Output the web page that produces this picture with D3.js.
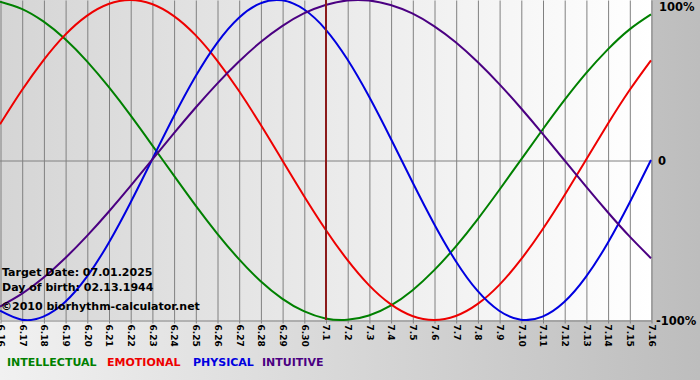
<!DOCTYPE html>
<html>
<head>
<meta charset="utf-8">
<script src="https://cdn.jsdelivr.net/npm/d3@7"></script>
<style>
html,body{margin:0;padding:0;background:#fff;}
svg{display:block;}
</style>
</head>
<body>
<svg id="chart" width="700" height="380"></svg>
<script>
// ---- data ----
const dates = ["6.16","6.17","6.18","6.19","6.20","6.21","6.22","6.23","6.24","6.25","6.26","6.27","6.28","6.29","6.30",
               "7.1","7.2","7.3","7.4","7.5","7.6","7.7","7.8","7.9","7.10","7.11","7.12","7.13","7.14","7.15","7.16"];
const intellectual = [0.990,0.945,0.866,0.756,0.618,0.458,0.282,0.095,-0.095,-0.282,-0.458,-0.618,-0.756,-0.866,-0.945,
                      -0.990,-0.999,-0.972,-0.910,-0.815,-0.690,-0.541,-0.372,-0.189,0.000,0.189,0.372,0.541,0.690,0.815,0.910];
const emotional = [0.223,0.434,0.623,0.782,0.901,0.975,1.000,0.975,0.901,0.782,0.623,0.434,0.223,0.000,-0.223,
                   -0.434,-0.623,-0.782,-0.901,-0.975,-1.000,-0.975,-0.901,-0.782,-0.623,-0.434,-0.223,0.000,0.223,0.434,0.623];
const physical = [-0.942,-0.998,-0.979,-0.888,-0.731,-0.520,-0.270,0.000,0.270,0.520,0.731,0.888,0.979,0.998,0.942,
                  0.817,0.631,0.398,0.136,-0.136,-0.398,-0.631,-0.817,-0.942,-0.998,-0.979,-0.888,-0.731,-0.520,-0.270,0.000];
const intuitive = [-0.916,-0.837,-0.736,-0.614,-0.476,-0.325,-0.165,0.000,0.165,0.325,0.476,0.614,0.736,0.837,0.916,
                   0.969,0.997,0.997,0.969,0.916,0.837,0.736,0.614,0.476,0.325,0.165,0.000,-0.165,-0.325,-0.476,-0.614];
const yTickLabels = [{v:1,t:"100%"},{v:0,t:"0"},{v:-1,t:"-100%"}];
const targetDate = "7.1";
const infoLines = ["Target Date: 07.01.2025","Day of birth: 02.13.1944","\u00A92010 biorhythm-calculator.net"];
const legendItems = [
  {name:"INTELLECTUAL", color:"#008000"},
  {name:"EMOTIONAL", color:"#ee0000"},
  {name:"PHYSICAL", color:"#0000e0"},
  {name:"INTUITIVE", color:"#4b0082"}
];
const seriesList = [
  {values:intellectual, color:"#008000"},
  {values:emotional, color:"#ee0000"},
  {values:physical, color:"#0000e0"},
  {values:intuitive, color:"#4b0082"}
];

// ---- layout ----
const W = 700, H = 380;
const plot = {left:0, top:0, right:651, bottom:320};
const svg = d3.select("#chart");
const defs = svg.append("defs");

const gOuter = defs.append("linearGradient").attr("id","outerGrad").attr("x1","0").attr("x2","1").attr("y1","0").attr("y2","0");
gOuter.append("stop").attr("offset","0").attr("stop-color","#f1f1f1");
gOuter.append("stop").attr("offset","1").attr("stop-color","#bdbdbd");
const gPlot = defs.append("linearGradient").attr("id","plotGrad").attr("x1","0").attr("x2","1").attr("y1","0").attr("y2","0");
gPlot.append("stop").attr("offset","0").attr("stop-color","#d5d5d5");
gPlot.append("stop").attr("offset","1").attr("stop-color","#ffffff");
defs.append("clipPath").attr("id","plotClip").append("rect")
  .attr("x",plot.left).attr("y",plot.top).attr("width",plot.right-plot.left+1).attr("height",plot.bottom-plot.top+1);

svg.append("rect").attr("width",W).attr("height",H).attr("fill","url(#outerGrad)");
svg.append("rect").attr("x",plot.left).attr("y",plot.top)
  .attr("width",plot.right-plot.left).attr("height",plot.bottom-plot.top).attr("fill","url(#plotGrad)");

const x = d3.scalePoint().domain(dates).range([plot.left, plot.right]).padding(0);
const y = d3.scaleLinear().domain([-1,1]).range([plot.bottom, plot.top]);

// vertical grid
svg.append("g").attr("class","grid")
  .attr("transform",`translate(0.5,${plot.bottom+0.5})`)
  .call(d3.axisBottom(x).tickSize(-(plot.bottom-plot.top)).tickFormat(""))
  .call(g=>g.select(".domain").remove())
  .call(g=>g.selectAll("line").attr("stroke","#808080").attr("stroke-width",1));

// horizontal zero line
svg.append("g").attr("class","hgrid")
  .attr("transform",`translate(${plot.left},0.5)`)
  .call(d3.axisLeft(y).tickValues([0]).tickSize(-(plot.right-plot.left)).tickFormat(""))
  .call(g=>g.select(".domain").remove())
  .call(g=>g.selectAll("line").attr("stroke","#808080"));

// bottom axis with rotated labels
const xAxis = svg.append("g")
  .attr("transform",`translate(0.5,${plot.bottom+0.5})`)
  .call(d3.axisBottom(x).tickSize(3).tickSizeOuter(0));
xAxis.select(".domain").attr("stroke","#808080");
xAxis.selectAll(".tick line").attr("stroke","#808080");
xAxis.selectAll(".tick text")
  .attr("transform","rotate(90)")
  .attr("x",4).attr("y",0).attr("dy","0.35em")
  .attr("text-anchor","start")
  .attr("fill","#000")
  .style("font-family","'DejaVu Sans', Verdana, sans-serif")
  .style("font-weight","bold")
  .style("font-size","9px");

// y labels on right
svg.append("g").selectAll("text").data(yTickLabels).enter().append("text")
  .attr("x",d=>d.v===0?658:(d.v>0?659:656))
  .attr("dy","0.35em")
  .attr("fill","#000")
  .style("font-family","'DejaVu Sans', Verdana, sans-serif")
  .style("font-weight","bold")
  .style("font-size","11.5px")
  .text(d=>d.t)
  .attr("y",d=>d.v===1?7:y(d.v)+1);

// curves
const line = d3.line().x((d,i)=>x(dates[i])).y(d=>y(d)).curve(d3.curveNatural);
const gLines = svg.append("g").attr("clip-path","url(#plotClip)");
seriesList.forEach(s=>{
  gLines.append("path").attr("d",line(s.values))
    .attr("fill","none").attr("stroke",s.color).attr("stroke-width",2)
    .attr("stroke-linejoin","round");
});

// target date line
svg.append("line")
  .attr("x1",x(targetDate)+0.5).attr("x2",x(targetDate)+0.5)
  .attr("y1",plot.top).attr("y2",plot.bottom)
  .attr("stroke","#8b1a1a").attr("stroke-width",2);

// info text
svg.append("g").selectAll("text").data(infoLines).enter().append("text")
  .attr("x",(d,i)=>i===2?1:2)
  .attr("y",(d,i)=>[276,291,310][i])
  .attr("fill","#000")
  .style("font-family","'DejaVu Sans', Verdana, sans-serif")
  .style("font-weight","bold")
  .style("font-size","11px")
  .text(d=>d);

// legend
const legendX = [7,107,193,262];
svg.append("g").selectAll("text").data(legendItems).enter().append("text")
  .attr("x",(d,i)=>legendX[i]).attr("y",366)
  .attr("fill",d=>d.color)
  .style("font-family","'DejaVu Sans', Verdana, sans-serif")
  .style("font-weight","bold")
  .style("font-size","11px")
  .text(d=>d.name);
</script>
</body>
</html>
